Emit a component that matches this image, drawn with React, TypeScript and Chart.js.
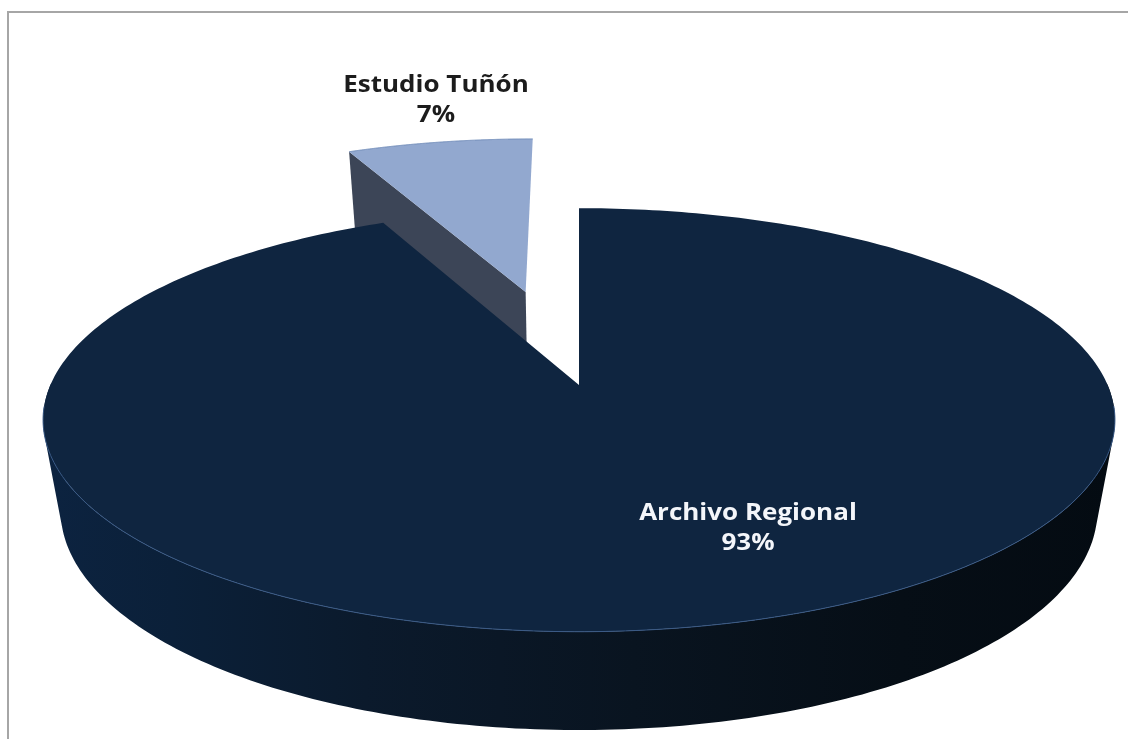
import React, { useEffect, useRef } from "react";
import { Chart, registerables } from "chart.js";

Chart.register(...registerables);

const categories = ["Archivo Regional", "Estudio Tuñón"];
const shares = [93, 7];
const explode = [0, 0.5];
const topColors = ["#0f2540", "#92a8cf"];
const edgeColors = ["#3a5a86", "#6f8bb8"];
const wallColors = ["#0a1626", "#3c4557"];

const persp = { x0: 579, y0: 385, a: 528.6, b: 206, k: 0.165, h: 93.5, m: 0.033 };

type Pt = { x: number; y: number };

function project(ux: number, uy: number, z: number): Pt {
  const w = 1 - persp.k * uy + persp.m * z;
  return {
    x: persp.x0 + (persp.a * ux) / w,
    y: persp.y0 + (persp.b * uy + persp.h * z) / w,
  };
}

function addPoly(ctx: CanvasRenderingContext2D, pts: Pt[]) {
  pts.forEach((p, i) => (i ? ctx.lineTo(p.x, p.y) : ctx.moveTo(p.x, p.y)));
  ctx.closePath();
}

function signedArea(pts: Pt[]) {
  let sum = 0;
  pts.forEach((p, i) => {
    const q = pts[(i + 1) % pts.length];
    sum += p.x * q.y - q.x * p.y;
  });
  return sum;
}

const pie3d = {
  id: "pie3d",
  beforeDatasetsDraw(chart: any) {
    const ctx: CanvasRenderingContext2D = chart.ctx;
    const arcs = chart.getDatasetMeta(0).data;
    const order = arcs.map((_: any, i: number) => i).reverse();
    order.forEach((i: number) => {
      const start = arcs[i].startAngle;
      const end = arcs[i].endAngle;
      const mid = (start + end) / 2;
      const dx = Math.cos(mid) * explode[i];
      const dy = Math.sin(mid) * explode[i];
      const n = 360;
      const rim: [number, number][] = [];
      for (let s = 0; s <= n; s++) {
        const t = start + ((end - start) * s) / n;
        rim.push([Math.cos(t) + dx, Math.sin(t) + dy]);
      }
      const upper = rim.map(([x, y]) => project(x, y, 0));
      const lower = rim.map(([x, y]) => project(x, y, 1));
      if (i === 0) {
        // outer wall: one path of same-wound quads, so the silhouette is the true one
        const g = ctx.createLinearGradient(44, 0, 1116, 0);
        g.addColorStop(0, "#0c2340");
        g.addColorStop(0.12, "#0b2039");
        g.addColorStop(0.3, "#0b1a2c");
        g.addColorStop(0.55, "#091420");
        g.addColorStop(0.8, "#060e16");
        g.addColorStop(1, "#040b12");
        ctx.fillStyle = g;
        ctx.beginPath();
        for (let s = 0; s < n; s++) {
          if (rim[s][1] < 0 && rim[s + 1][1] < 0) continue;
          const quad = [upper[s], upper[s + 1], lower[s + 1], lower[s]];
          addPoly(ctx, signedArea(quad) < 0 ? quad.reverse() : quad);
        }
        ctx.fill("nonzero");
      } else {
        // only the radial wall facing the viewer shows on the pulled-out slice
        ctx.fillStyle = wallColors[i];
        ctx.beginPath();
        addPoly(ctx, [
          project(dx, dy, 0),
          project(rim[0][0], rim[0][1], 0),
          project(rim[0][0], rim[0][1], 1),
          project(dx, dy, 1),
        ]);
        ctx.fill();
      }
      // top face
      ctx.beginPath();
      addPoly(ctx, [project(dx, dy, 0), ...upper]);
      ctx.fillStyle = topColors[i];
      ctx.fill();
      // thin lit edge along the front rim
      ctx.strokeStyle = edgeColors[i];
      ctx.lineWidth = 1;
      ctx.beginPath();
      let pen = false;
      upper.forEach((p, s) => {
        if (i === 0 && rim[s][1] < 0.1) {
          pen = false;
          return;
        }
        if (pen) ctx.lineTo(p.x, p.y);
        else ctx.moveTo(p.x, p.y);
        pen = true;
      });
      ctx.stroke();
    });
    return false;
  },
  afterDraw(chart: any) {
    const ctx: CanvasRenderingContext2D = chart.ctx;
    const spots = [
      { x: 748, y: 513, color: "#f4f6fa" },
      { x: 436, y: 85, color: "#1c1c1c" },
    ];
    categories.forEach((name, i) => {
      ctx.save();
      ctx.translate(spots[i].x, spots[i].y);
      ctx.scale(1.13, 1);
      ctx.textAlign = "center";
      ctx.textBaseline = "middle";
      ctx.font = 'bold 23px "Open Sans"';
      ctx.fillStyle = spots[i].color;
      ctx.fillText(name, 0, 0);
      ctx.fillText(shares[i] + "%", 0, 30);
      ctx.restore();
    });
  },
};

export default function App() {
  const ref = useRef<HTMLCanvasElement>(null);
  useEffect(() => {
    const chart = new Chart(ref.current!, {
      type: "pie",
      data: {
        labels: categories,
        datasets: [{ data: shares, backgroundColor: topColors }],
      },
      options: {
        animation: false,
        responsive: false,
        plugins: { legend: { display: false }, tooltip: { enabled: false } },
      },
      plugins: [pie3d],
    } as any);
    return () => chart.destroy();
  }, []);
  return (
    <div style={{ position: "fixed", left: 0, top: 0, width: 1128, height: 739, background: "#fff", overflow: "hidden" }}>
      <div style={{ position: "absolute", left: 7, top: 11, width: 1121, height: 728, borderLeft: "2px solid #a6a6a6", borderTop: "2px solid #a6a6a6" }} />
      <canvas ref={ref} width={1128} height={739} style={{ position: "absolute", left: 0, top: 0, display: "block" }} />
    </div>
  );
}
